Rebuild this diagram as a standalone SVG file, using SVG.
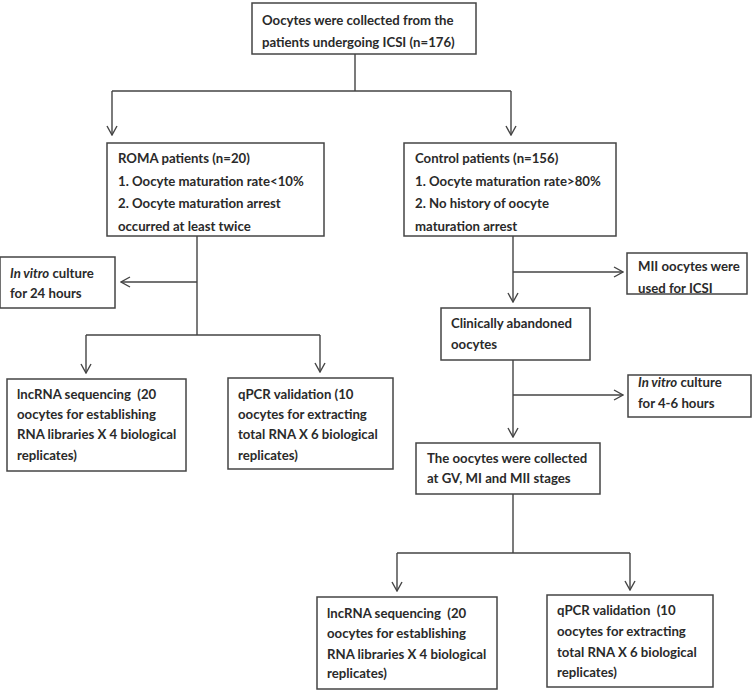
<svg xmlns="http://www.w3.org/2000/svg" width="752" height="690" viewBox="0 0 752 690">
<style>
.box{fill:#fff;stroke:#444;stroke-width:1.5}
.t{font-family:Lato,"Liberation Sans",sans-serif;font-weight:700;font-size:13.2px;fill:#2a2a2a;white-space:pre}
.ln{fill:none;stroke:#444;stroke-width:1.4}
.ar{fill:none;stroke:#444;stroke-width:1.4;marker-end:url(#ah)}
</style>
<defs>
<marker id="ah" viewBox="0 0 12 12" refX="11" refY="6" markerWidth="12" markerHeight="12" markerUnits="userSpaceOnUse" orient="auto">
<path d="M2,1 L11,6 L2,11" fill="none" stroke="#444" stroke-width="1.4"/>
</marker>
</defs>
<g id="connectors">
<path class="ln" d="M355,54 V91 M112,91 H511"/>
<path class="ar" d="M112,91 V135"/>
<path class="ar" d="M511,91 V135"/>
<path class="ln" d="M197,236 V335 M86,335 H320"/>
<path class="ar" d="M197,282 H121"/>
<path class="ar" d="M86,335 V373"/>
<path class="ar" d="M320,335 V372"/>
<path class="ar" d="M513,236 V302"/>
<path class="ar" d="M513,272 H623"/>
<path class="ar" d="M513,360 V437"/>
<path class="ar" d="M513,395 H623"/>
<path class="ln" d="M513,494 V553 M397,553 H630"/>
<path class="ar" d="M397,553 V591"/>
<path class="ar" d="M630,553 V590"/>
</g>
<g id="n1"><rect class="box" x="252" y="3" width="224" height="51"/>
<text class="t" x="262" y="25">Oocytes were collected from the</text>
<text class="t" x="262" y="47">patients undergoing ICSI (n=176)</text></g>
<g id="n2"><rect class="box" x="107" y="143" width="217" height="93"/>
<text class="t" x="118" y="163">ROMA patients (n=20)</text>
<text class="t" x="118" y="186">1. Oocyte maturation rate&lt;10%</text>
<text class="t" x="118" y="208">2. Oocyte maturation arrest</text>
<text class="t" x="118" y="231">occurred at least twice</text></g>
<g id="n3"><rect class="box" x="404" y="143" width="212" height="93"/>
<text class="t" x="415" y="163">Control patients (n=156)</text>
<text class="t" x="415" y="186">1. Oocyte maturation rate&gt;80%</text>
<text class="t" x="415" y="208">2. No history of oocyte</text>
<text class="t" x="415" y="231">maturation arrest</text></g>
<g id="n4"><rect class="box" x="0" y="257" width="115" height="51"/>
<text class="t" x="10" y="278"><tspan font-style="italic">In vitro</tspan> culture</text>
<text class="t" x="10" y="298">for 24 hours</text></g>
<g id="n5"><rect class="box" x="7" y="379" width="179" height="92"/>
<text class="t" x="17" y="399">lncRNA sequencing  (20</text>
<text class="t" x="17" y="419">oocytes for establishing</text>
<text class="t" x="17" y="439">RNA libraries X 4 biological</text>
<text class="t" x="17" y="460">replicates)</text></g>
<g id="n6"><rect class="box" x="228" y="378" width="165" height="91"/>
<text class="t" x="238" y="399">qPCR validation (10</text>
<text class="t" x="238" y="419">oocytes for extracting</text>
<text class="t" x="238" y="439">total RNA X 6 biological</text>
<text class="t" x="238" y="460">replicates)</text></g>
<g id="n7"><rect class="box" x="627" y="253" width="120" height="41"/>
<text class="t" x="638" y="271">MII oocytes were</text>
<text class="t" x="638" y="293">used for ICSI</text></g>
<g id="n8"><rect class="box" x="441" y="308" width="149" height="52"/>
<text class="t" x="451" y="328">Clinically abandoned</text>
<text class="t" x="451" y="349">oocytes</text></g>
<g id="n9"><rect class="box" x="628" y="375" width="123" height="42"/>
<text class="t" x="638" y="387"><tspan font-style="italic">In vitro</tspan> culture</text>
<text class="t" x="638" y="408">for 4-6 hours</text></g>
<g id="n10"><rect class="box" x="416" y="443" width="184" height="51"/>
<text class="t" x="427" y="463">The oocytes were collected</text>
<text class="t" x="427" y="483">at GV, MI and MII stages</text></g>
<g id="n11"><rect class="box" x="317" y="597" width="180" height="92"/>
<text class="t" x="327" y="618">lncRNA sequencing  (20</text>
<text class="t" x="327" y="638">oocytes for establishing</text>
<text class="t" x="327" y="659">RNA libraries X 4 biological</text>
<text class="t" x="327" y="678">replicates)</text></g>
<g id="n12"><rect class="box" x="547" y="595" width="166" height="92"/>
<text class="t" x="557" y="615">qPCR validation  (10</text>
<text class="t" x="557" y="636">oocytes for extracting</text>
<text class="t" x="557" y="657">total RNA X 6 biological</text>
<text class="t" x="557" y="677">replicates)</text></g>
</svg>
